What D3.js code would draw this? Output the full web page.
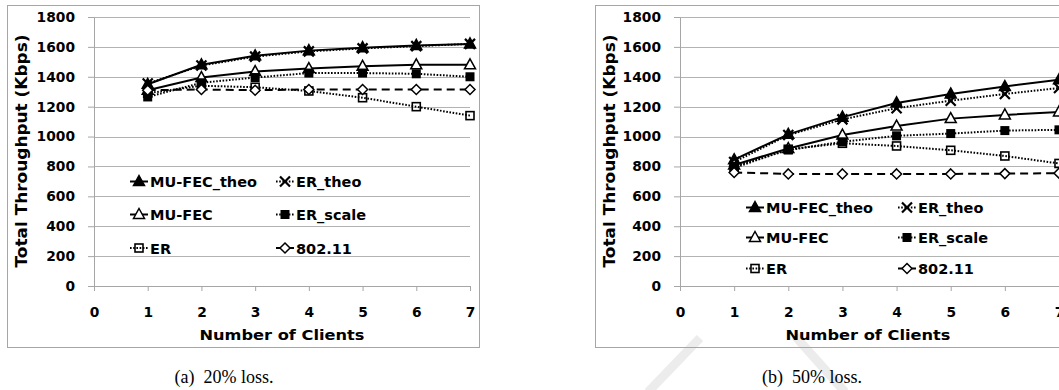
<!DOCTYPE html>
<html>
<head>
<meta charset="utf-8">
<script src="https://cdn.jsdelivr.net/npm/d3@7"></script>
<style>
  body { margin: 0; background: #fff; }
  svg { display: block; }
  text { font-family: "DejaVu Sans", sans-serif; font-weight: bold; fill: #000; }
  .caption { font-family: "Liberation Serif", "Times New Roman", serif; font-weight: normal; white-space: pre; }
</style>
</head>
<body>
<svg id="chart" width="1059" height="390"></svg>
<script>
// Data
const clients = [1, 2, 3, 4, 5, 6, 7];
const xTicks = [0, 1, 2, 3, 4, 5, 6, 7];
const yTicks = [0, 200, 400, 600, 800, 1000, 1200, 1400, 1600, 1800];
const seriesNames = ["MU-FEC_theo", "ER_theo", "MU-FEC", "ER_scale", "ER", "802.11"];

// (a) 20% loss
const loss20MuFecTheo = [1350, 1480, 1540, 1575, 1595, 1610, 1620];
const loss20ErTheo = [1355, 1475, 1535, 1570, 1590, 1605, 1620];
const loss20MuFec = [1310, 1395, 1435, 1455, 1470, 1480, 1480];
const loss20ErScale = [1265, 1360, 1395, 1425, 1425, 1420, 1400];
const loss20Er = [1290, 1340, 1330, 1305, 1260, 1200, 1140];
const loss20Wifi = [1310, 1315, 1310, 1315, 1315, 1315, 1315];

// (b) 50% loss
const loss50MuFecTheo = [845, 1015, 1130, 1225, 1285, 1335, 1380];
const loss50ErTheo = [830, 1010, 1115, 1190, 1240, 1285, 1325];
const loss50MuFec = [810, 920, 1010, 1070, 1120, 1145, 1165];
const loss50ErScale = [800, 910, 965, 1005, 1020, 1040, 1045];
const loss50Er = [790, 915, 955, 937, 908, 870, 820];
const loss50Wifi = [760, 750, 750, 750, 750, 752, 755];

const captions = ["(a)  20% loss.", "(b)  50% loss."];
const xTitle = "Number of Clients";
const yTitle = "Total Throughput (Kbps)";

// how each series looks
const styles = {
  "MU-FEC_theo": { marker: "triFilled", dash: null },
  "ER_theo": { marker: "x", dash: "1.6,1.6" },
  "MU-FEC": { marker: "triOpen", dash: null },
  "ER_scale": { marker: "sqFilled", dash: "1.6,1.6" },
  "ER": { marker: "sqOpen", dash: "1.6,1.6" },
  "802.11": { marker: "diamond", dash: "8,5" },
};

const svg = d3.select("#chart");
svg.append("rect").attr("width", 1059).attr("height", 390).attr("fill", "#fff");

// light watermark stroke
svg.append("path")
  .attr("d", "M648,392 L700,338 M795,336 L845,392")
  .attr("stroke", "#ececec").attr("stroke-width", 9).attr("fill", "none");

function drawMarker(g, type, cx, cy) {
  if (type === "triFilled" || type === "triOpen") {
    g.append("path")
      .attr("d", `M${cx},${cy - 6}L${cx + 5.5},${cy + 4}L${cx - 5.5},${cy + 4}Z`)
      .attr("fill", type === "triFilled" ? "#000" : "#fff")
      .attr("stroke", "#000").attr("stroke-width", 1.5);
  } else if (type === "x") {
    g.append("path")
      .attr("d", `M${cx - 5},${cy - 5}L${cx + 5},${cy + 5}M${cx - 5},${cy + 5}L${cx + 5},${cy - 5}`)
      .attr("stroke", "#000").attr("stroke-width", 2.2).attr("fill", "none");
  } else if (type === "sqFilled") {
    g.append("rect").attr("x", cx - 4.5).attr("y", cy - 4.5)
      .attr("width", 9).attr("height", 9).attr("fill", "#000");
  } else if (type === "sqOpen") {
    g.append("rect").attr("x", cx - 4).attr("y", cy - 4)
      .attr("width", 8).attr("height", 8)
      .attr("fill", "none").attr("stroke", "#000").attr("stroke-width", 1.6);
  } else if (type === "diamond") {
    g.append("path")
      .attr("d", `M${cx},${cy - 5}L${cx + 5},${cy}L${cx},${cy + 5}L${cx - 5},${cy}Z`)
      .attr("fill", "#fff").attr("stroke", "#000").attr("stroke-width", 1.5);
  }
}

function drawPanel(p) {
  const g = svg.append("g");

  // outer frame
  g.append("rect")
    .attr("x", p.frame[0]).attr("y", p.frame[1])
    .attr("width", p.frame[2]).attr("height", p.frame[3])
    .attr("fill", "none").attr("stroke", "#a6a6a6");

  const x = d3.scaleLinear().domain([0, 7]).range(p.xRange);
  const y = d3.scaleLinear().domain([0, 1800]).range([286, 17]);

  // gridlines
  g.append("g").selectAll("line")
    .data(yTicks.filter((d) => d > 0))
    .enter().append("line")
    .attr("x1", x(0)).attr("x2", x(7))
    .attr("y1", (d) => Math.round(y(d)) + 0.5)
    .attr("y2", (d) => Math.round(y(d)) + 0.5)
    .attr("stroke", "#b3b3b3");

  const yAxis = g.append("g")
    .attr("transform", `translate(${x(0)},0)`)
    .call(d3.axisLeft(y).tickValues(yTicks).tickFormat(d3.format("d"))
      .tickSize(6).tickSizeOuter(0).tickPadding(13));
  const xAxis = g.append("g")
    .attr("transform", `translate(0,${y(0)})`)
    .call(d3.axisBottom(x).tickValues(xTicks).tickFormat(d3.format("d"))
      .tickSize(5).tickSizeOuter(0).tickPadding(16));
  [yAxis, xAxis].forEach((a) => {
    a.selectAll("path, line").attr("stroke", "#a6a6a6");
    a.selectAll("text").style("font-size", "13.8px")
      .style("font-family", "DejaVu Sans").style("font-weight", "bold");
  });

  // axis titles
  g.append("text")
    .attr("x", (p.xRange[0] + p.xRange[0] + 376) / 2)
    .attr("y", 340)
    .attr("text-anchor", "middle")
    .attr("textLength", 165)
    .attr("lengthAdjust", "spacingAndGlyphs")
    .style("font-size", "14.5px")
    .text(xTitle);
  g.append("text")
    .attr("transform", `translate(${p.yTitleX},151) rotate(-90)`)
    .attr("text-anchor", "middle")
    .attr("dominant-baseline", "central")
    .attr("textLength", 233)
    .attr("lengthAdjust", "spacingAndGlyphs")
    .style("font-size", "15px")
    .text(yTitle);

  // series
  const line = d3.line().x((d, i) => x(clients[i])).y((d) => y(d));
  p.series.forEach((vals, k) => {
    const st = styles[seriesNames[k]];
    g.append("path")
      .datum(vals)
      .attr("d", line)
      .attr("fill", "none")
      .attr("stroke", "#000")
      .attr("stroke-width", 2)
      .attr("stroke-dasharray", st.dash);
  });
  p.series.forEach((vals, k) => {
    const st = styles[seriesNames[k]];
    vals.forEach((v, i) => drawMarker(g, st.marker, x(clients[i]), y(v)));
  });

  // legend, two columns by three rows
  seriesNames.forEach((name, k) => {
    const st = styles[name];
    const col = k % 2, row = Math.floor(k / 2);
    const lx = p.legCols[col], ly = p.legRows[row];
    g.append("line")
      .attr("x1", lx).attr("x2", lx + 18)
      .attr("y1", ly).attr("y2", ly)
      .attr("stroke", "#000").attr("stroke-width", 2)
      .attr("stroke-dasharray", st.dash === "8,5" ? "5,2" : st.dash);
    drawMarker(g, st.marker, lx + 9, ly);
    g.append("text")
      .attr("x", lx + 20).attr("y", ly + 5.5)
      .style("font-size", "14.5px")
      .text(name);
  });

  // caption
  svg.append("text")
    .attr("class", "caption")
    .attr("x", p.captionX).attr("y", 383)
    .attr("text-anchor", "middle")
    .style("font-size", "18px")
    .text(p.caption);
}

drawPanel({
  frame: [7.5, 5.5, 472, 342],
  xRange: [94, 470],
  yTitleX: 22,
  legCols: [130, 276],
  legRows: [181.5, 214.5, 248],
  captionX: 224,
  caption: captions[0],
  series: [loss20MuFecTheo, loss20ErTheo, loss20MuFec, loss20ErScale, loss20Er, loss20Wifi],
});

drawPanel({
  frame: [595.5, 5.5, 480, 342],
  xRange: [680, 1059],
  yTitleX: 610,
  legCols: [746, 898],
  legRows: [207.5, 237.5, 268.5],
  captionX: 812,
  caption: captions[1],
  series: [loss50MuFecTheo, loss50ErTheo, loss50MuFec, loss50ErScale, loss50Er, loss50Wifi],
});
</script>
</body>
</html>
